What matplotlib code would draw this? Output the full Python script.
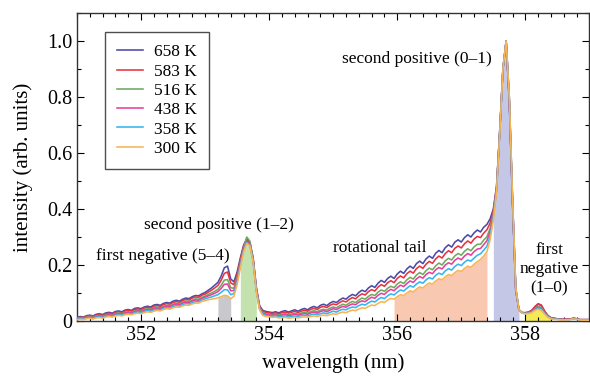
import numpy as np
import matplotlib
matplotlib.use("Agg")
import matplotlib.pyplot as plt
from matplotlib.ticker import MultipleLocator, FixedLocator, FixedFormatter

plt.rcParams['font.family'] = ['Liberation Serif', 'DejaVu Serif']

# wavelength grid (nm), 351.00 .. 359.00 step 0.05
wavelength = np.round(np.arange(351.0, 359.0001, 0.05), 2)

i_658 = [
    0.013, 0.016, 0.014, 0.019, 0.021, 0.018, 0.024, 0.026, 0.023, 0.029,
    0.031, 0.028, 0.034, 0.036, 0.033, 0.039, 0.041, 0.038, 0.045, 0.047,
    0.044, 0.050, 0.053, 0.050, 0.057, 0.059, 0.056, 0.063, 0.066, 0.064,
    0.071, 0.074, 0.071, 0.078, 0.082, 0.080, 0.087, 0.091, 0.090, 0.097,
    0.102, 0.110, 0.118, 0.128, 0.138, 0.160, 0.190, 0.196, 0.150, 0.140,
    0.175, 0.225, 0.270, 0.294, 0.280, 0.225, 0.120, 0.055, 0.038, 0.034,
    0.032, 0.030, 0.033, 0.029, 0.034, 0.037, 0.032, 0.036, 0.040, 0.035,
    0.041, 0.045, 0.040, 0.048, 0.052, 0.047, 0.056, 0.060, 0.055, 0.064,
    0.070, 0.066, 0.075, 0.082, 0.078, 0.088, 0.095, 0.090, 0.102, 0.110,
    0.105, 0.118, 0.126, 0.120, 0.135, 0.145, 0.138, 0.152, 0.160, 0.152,
    0.168, 0.178, 0.170, 0.186, 0.196, 0.188, 0.205, 0.214, 0.205, 0.222,
    0.232, 0.224, 0.242, 0.252, 0.244, 0.262, 0.272, 0.264, 0.282, 0.290,
    0.282, 0.298, 0.308, 0.300, 0.315, 0.325, 0.318, 0.335, 0.345, 0.365,
    0.400, 0.480, 0.680, 0.900, 1.000, 0.780, 0.420, 0.110, 0.040, 0.030,
    0.030, 0.032, 0.038, 0.050, 0.060, 0.055, 0.035, 0.020, 0.012, 0.010,
    0.008, 0.007, 0.006, 0.006, 0.007, 0.010, 0.008, 0.005, 0.005, 0.005,
    0.005]

i_583 = [
    0.011, 0.014, 0.012, 0.017, 0.019, 0.016, 0.021, 0.023, 0.020, 0.026,
    0.028, 0.025, 0.031, 0.033, 0.030, 0.036, 0.038, 0.035, 0.041, 0.043,
    0.040, 0.046, 0.049, 0.046, 0.053, 0.055, 0.052, 0.059, 0.062, 0.060,
    0.066, 0.069, 0.067, 0.073, 0.077, 0.075, 0.082, 0.086, 0.085, 0.092,
    0.096, 0.103, 0.110, 0.118, 0.127, 0.145, 0.170, 0.175, 0.136, 0.130,
    0.166, 0.218, 0.265, 0.290, 0.278, 0.222, 0.117, 0.052, 0.034, 0.030,
    0.029, 0.027, 0.029, 0.025, 0.030, 0.032, 0.028, 0.031, 0.035, 0.030,
    0.035, 0.039, 0.035, 0.042, 0.045, 0.041, 0.049, 0.052, 0.048, 0.056,
    0.061, 0.058, 0.066, 0.072, 0.068, 0.077, 0.084, 0.079, 0.090, 0.097,
    0.093, 0.105, 0.112, 0.107, 0.121, 0.130, 0.124, 0.137, 0.144, 0.137,
    0.152, 0.161, 0.154, 0.169, 0.178, 0.171, 0.187, 0.196, 0.188, 0.203,
    0.213, 0.206, 0.222, 0.232, 0.225, 0.241, 0.251, 0.244, 0.260, 0.268,
    0.261, 0.276, 0.286, 0.278, 0.293, 0.302, 0.298, 0.314, 0.326, 0.350,
    0.392, 0.476, 0.678, 0.900, 1.000, 0.784, 0.424, 0.112, 0.040, 0.030,
    0.029, 0.031, 0.038, 0.052, 0.062, 0.057, 0.036, 0.019, 0.011, 0.009,
    0.007, 0.006, 0.006, 0.006, 0.007, 0.010, 0.008, 0.005, 0.005, 0.005,
    0.005]

i_516 = [
    0.009, 0.012, 0.010, 0.014, 0.016, 0.013, 0.018, 0.020, 0.017, 0.022,
    0.024, 0.022, 0.027, 0.029, 0.026, 0.031, 0.033, 0.031, 0.036, 0.038,
    0.036, 0.041, 0.044, 0.041, 0.047, 0.050, 0.047, 0.053, 0.056, 0.054,
    0.060, 0.063, 0.061, 0.067, 0.071, 0.069, 0.075, 0.079, 0.078, 0.085,
    0.089, 0.095, 0.100, 0.106, 0.113, 0.127, 0.146, 0.148, 0.119, 0.117,
    0.155, 0.209, 0.259, 0.300, 0.285, 0.220, 0.113, 0.048, 0.030, 0.026,
    0.024, 0.022, 0.024, 0.021, 0.024, 0.026, 0.022, 0.025, 0.028, 0.024,
    0.028, 0.032, 0.028, 0.034, 0.037, 0.033, 0.039, 0.042, 0.039, 0.046,
    0.050, 0.047, 0.054, 0.060, 0.056, 0.064, 0.070, 0.066, 0.075, 0.082,
    0.078, 0.088, 0.095, 0.091, 0.103, 0.111, 0.106, 0.117, 0.124, 0.119,
    0.132, 0.140, 0.134, 0.147, 0.156, 0.150, 0.164, 0.173, 0.166, 0.180,
    0.189, 0.183, 0.197, 0.207, 0.200, 0.215, 0.224, 0.218, 0.233, 0.241,
    0.235, 0.249, 0.258, 0.251, 0.265, 0.274, 0.274, 0.289, 0.301, 0.331,
    0.382, 0.471, 0.676, 0.900, 1.000, 0.789, 0.429, 0.115, 0.040, 0.029,
    0.028, 0.030, 0.034, 0.045, 0.052, 0.048, 0.030, 0.017, 0.010, 0.008,
    0.007, 0.006, 0.005, 0.005, 0.006, 0.009, 0.007, 0.005, 0.004, 0.004,
    0.004]

i_438 = [
    0.008, 0.010, 0.009, 0.012, 0.014, 0.011, 0.016, 0.018, 0.015, 0.020,
    0.022, 0.020, 0.024, 0.026, 0.024, 0.029, 0.031, 0.028, 0.034, 0.036,
    0.033, 0.038, 0.041, 0.039, 0.044, 0.046, 0.044, 0.050, 0.053, 0.051,
    0.057, 0.060, 0.058, 0.064, 0.067, 0.066, 0.071, 0.075, 0.074, 0.081,
    0.085, 0.090, 0.094, 0.099, 0.105, 0.116, 0.131, 0.132, 0.108, 0.109,
    0.148, 0.204, 0.255, 0.284, 0.273, 0.216, 0.111, 0.046, 0.027, 0.023,
    0.022, 0.020, 0.022, 0.018, 0.021, 0.023, 0.019, 0.021, 0.024, 0.021,
    0.024, 0.027, 0.024, 0.029, 0.032, 0.028, 0.034, 0.037, 0.033, 0.039,
    0.044, 0.041, 0.047, 0.052, 0.049, 0.056, 0.061, 0.058, 0.067, 0.072,
    0.069, 0.078, 0.085, 0.081, 0.092, 0.099, 0.095, 0.106, 0.113, 0.108,
    0.119, 0.128, 0.123, 0.134, 0.143, 0.138, 0.150, 0.159, 0.153, 0.166,
    0.174, 0.169, 0.183, 0.191, 0.186, 0.200, 0.208, 0.203, 0.217, 0.225,
    0.219, 0.232, 0.241, 0.235, 0.248, 0.257, 0.259, 0.273, 0.287, 0.320,
    0.376, 0.468, 0.674, 0.900, 1.000, 0.792, 0.432, 0.116, 0.040, 0.029,
    0.028, 0.029, 0.033, 0.043, 0.049, 0.045, 0.029, 0.016, 0.010, 0.008,
    0.006, 0.005, 0.005, 0.005, 0.006, 0.009, 0.007, 0.004, 0.004, 0.004,
    0.004]

i_358 = [
    0.006, 0.008, 0.007, 0.010, 0.011, 0.009, 0.014, 0.015, 0.013, 0.017,
    0.019, 0.017, 0.021, 0.023, 0.021, 0.025, 0.027, 0.025, 0.030, 0.032,
    0.030, 0.034, 0.037, 0.035, 0.039, 0.042, 0.040, 0.045, 0.048, 0.046,
    0.052, 0.055, 0.053, 0.059, 0.062, 0.061, 0.066, 0.069, 0.069, 0.075,
    0.079, 0.083, 0.086, 0.090, 0.094, 0.102, 0.112, 0.111, 0.094, 0.098,
    0.139, 0.197, 0.250, 0.280, 0.270, 0.213, 0.108, 0.043, 0.024, 0.020,
    0.018, 0.016, 0.018, 0.015, 0.016, 0.018, 0.014, 0.016, 0.018, 0.016,
    0.019, 0.021, 0.018, 0.022, 0.025, 0.022, 0.026, 0.029, 0.026, 0.031,
    0.035, 0.032, 0.038, 0.042, 0.040, 0.046, 0.050, 0.048, 0.055, 0.060,
    0.057, 0.065, 0.071, 0.068, 0.077, 0.084, 0.080, 0.090, 0.097, 0.093,
    0.103, 0.111, 0.107, 0.117, 0.126, 0.121, 0.132, 0.140, 0.135, 0.147,
    0.155, 0.150, 0.163, 0.171, 0.166, 0.179, 0.187, 0.182, 0.195, 0.203,
    0.198, 0.210, 0.218, 0.214, 0.225, 0.235, 0.240, 0.253, 0.267, 0.305,
    0.368, 0.464, 0.672, 0.900, 1.000, 0.796, 0.436, 0.118, 0.040, 0.028,
    0.027, 0.028, 0.032, 0.040, 0.046, 0.042, 0.027, 0.015, 0.009, 0.007,
    0.006, 0.005, 0.004, 0.004, 0.005, 0.008, 0.006, 0.004, 0.003, 0.003,
    0.003]

i_300 = [
    0.004, 0.006, 0.005, 0.008, 0.009, 0.007, 0.011, 0.012, 0.010, 0.014,
    0.016, 0.014, 0.018, 0.020, 0.018, 0.022, 0.024, 0.022, 0.026, 0.028,
    0.026, 0.030, 0.033, 0.031, 0.035, 0.038, 0.036, 0.041, 0.044, 0.042,
    0.047, 0.050, 0.049, 0.054, 0.057, 0.056, 0.061, 0.064, 0.064, 0.070,
    0.073, 0.076, 0.078, 0.080, 0.083, 0.087, 0.092, 0.090, 0.080, 0.088,
    0.130, 0.190, 0.245, 0.277, 0.268, 0.210, 0.105, 0.040, 0.020, 0.016,
    0.015, 0.013, 0.014, 0.011, 0.012, 0.013, 0.010, 0.011, 0.013, 0.011,
    0.013, 0.015, 0.013, 0.016, 0.018, 0.016, 0.019, 0.021, 0.019, 0.023,
    0.026, 0.024, 0.029, 0.032, 0.030, 0.035, 0.039, 0.037, 0.043, 0.047,
    0.045, 0.052, 0.057, 0.055, 0.063, 0.069, 0.066, 0.075, 0.081, 0.078,
    0.087, 0.094, 0.091, 0.100, 0.108, 0.104, 0.114, 0.122, 0.118, 0.128,
    0.136, 0.132, 0.143, 0.151, 0.147, 0.158, 0.166, 0.162, 0.173, 0.181,
    0.177, 0.188, 0.196, 0.192, 0.203, 0.212, 0.220, 0.232, 0.248, 0.290,
    0.360, 0.460, 0.670, 0.900, 1.000, 0.800, 0.440, 0.120, 0.040, 0.028,
    0.026, 0.027, 0.030, 0.038, 0.042, 0.038, 0.025, 0.014, 0.008, 0.006,
    0.005, 0.004, 0.004, 0.004, 0.005, 0.008, 0.006, 0.004, 0.003, 0.003,
    0.003]

series_labels = ['658 K', '583 K', '516 K', '438 K', '358 K', '300 K']
series_values = [i_658, i_583, i_516, i_438, i_358, i_300]
series_colors = ['#4b4aa6', '#e8333f', '#6fa863', '#e6409b', '#35b6ee', '#f8b455']

# shaded bands (nm) under the 300 K spectrum
bands = [(353.20, 353.40, '#c9c9cd'),
         (353.55, 353.80, '#c3e2ae'),
         (355.95, 357.40, '#f9c8b0'),
         (357.50, 357.90, '#c5c7e7'),
         (358.00, 358.40, '#f3ea55')]

annotations = [
    ('second positive (0–1)', 356.30, 0.935),
    ('second positive (1–2)', 353.21, 0.342),
    ('first negative (5–4)', 352.34, 0.231),
    ('rotational tail', 355.72, 0.260),
    ('first\nnegative\n(1–0)', 358.37, 0.185),
]

fig = plt.figure(figsize=(5.9, 3.77), dpi=100)
ax = fig.add_axes([0.1305, 0.1485, 0.8685, 0.817])

wl = np.asarray(wavelength)
base = np.asarray(i_300)
for lo, hi, col in bands:
    mask = (wl >= lo - 1e-6) & (wl <= hi + 1e-6)
    ax.fill_between(wl, 0, base, where=mask, color=col, linewidth=0, zorder=1)

for lab, vals, col in zip(series_labels, series_values, series_colors):
    ax.plot(wl, vals, color=col, lw=1.15, label=lab, zorder=3)

for txt, x, y in annotations:
    ax.text(x, y, txt, ha='center', va='center', fontsize=12.5,
            linespacing=1.3, zorder=5)

ax.set_xlim(351, 359)
ax.set_ylim(0, 1.1)
ax.xaxis.set_major_locator(FixedLocator([352, 354, 356, 358]))
ax.xaxis.set_minor_locator(MultipleLocator(0.2))
ax.yaxis.set_major_locator(FixedLocator([0, 0.2, 0.4, 0.6, 0.8, 1.0]))
ax.yaxis.set_major_formatter(FixedFormatter(['0', '0.2', '0.4', '0.6', '0.8', '1.0']))
ax.yaxis.set_minor_locator(MultipleLocator(0.1))
ax.tick_params(which='both', direction='in', top=True, right=True,
               labelsize=14.5, width=0.8)
ax.tick_params(which='major', length=5)
ax.tick_params(which='minor', length=3)
for s in ax.spines.values():
    s.set_linewidth(1.0)
    s.set_color('#333333')

ax.set_xlabel('wavelength (nm)', fontsize=15, labelpad=6)
ax.set_ylabel('intensity (arb. units)', fontsize=15, labelpad=10)

leg = ax.legend(loc='upper left', bbox_to_anchor=(0.055, 0.938),
                borderaxespad=0, fontsize=12.5, frameon=True, fancybox=False,
                edgecolor='#222222', handlelength=1.5, handletextpad=0.6,
                borderpad=0.7, labelspacing=0.18)
leg.get_frame().set_linewidth(1.0)

fig.savefig('out.png', dpi=100)
